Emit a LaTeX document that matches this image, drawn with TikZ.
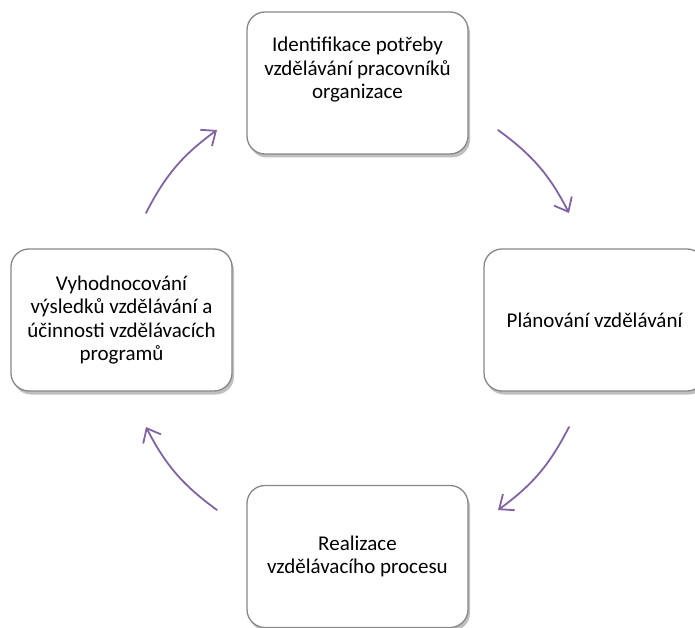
\documentclass[tikz,border=0pt]{standalone}
\usepackage{fontspec}
\setmainfont{Carlito}
\usetikzlibrary{arrows.meta,shadows}
\definecolor{obrys}{RGB}{135,135,135}
\definecolor{sipka}{RGB}{128,100,162}
\begin{document}
\begin{tikzpicture}[x=1pt,y=1pt]
    \tikzstyle{every node}+=[inner sep=0pt]
    \tikzstyle{blok}=[draw=obrys, line width=1.3pt, fill=white, rounded corners=18pt,
        minimum width=221pt, minimum height=142pt,
        drop shadow={shadow xshift=2pt, shadow yshift=-3.5pt, opacity=0.25, fill=black}]
    \tikzstyle{popis}=[align=center, font=\fontsize{21}{23.5}\selectfont]
    \tikzstyle{cyklus}=[draw=sipka, line width=1.8pt, line cap=round,
        -{Straight Barb[length=12pt, width=20pt, line width=1.8pt]}]
    \useasboundingbox (0,0) rectangle (695,-628);
    % boxes
    \node[blok] (identifikace) at (357.5,-83) {};
    \node[popis] (identifikace-t) at (357.5,-70) {Identifikace potřeby\\vzdělávání pracovníků\\organizace};
    \node[blok, popis] (planovani) at (594.5,-320) {Plánování vzdělávání};
    \node[blok, popis] (realizace) at (357.5,-556.5) {Realizace\\vzdělávacího procesu};
    \node[blok, popis] (vyhodnoceni) at (121.5,-320) {Vyhodnocování\\výsledků vzdělávání a\\účinnosti vzdělávacích\\programů};
    % arrow ends
    \coordinate (a1) at (498,-130);
    \coordinate (b1) at (569,-213);
    \coordinate (a2) at (569,-427);
    \coordinate (b2) at (498,-510);
    \coordinate (a3) at (217,-510);
    \coordinate (b3) at (146,-427);
    \coordinate (a4) at (146,-213);
    \coordinate (b4) at (217,-130);
    \draw[cyklus] (a1) to[bend left=13.4] (b1);
    \draw[cyklus] (a2) to[bend left=13.4] (b2);
    \draw[cyklus] (a3) to[bend left=13.4] (b3);
    \draw[cyklus] (a4) to[bend left=13.4] (b4);
\end{tikzpicture}
\end{document}
